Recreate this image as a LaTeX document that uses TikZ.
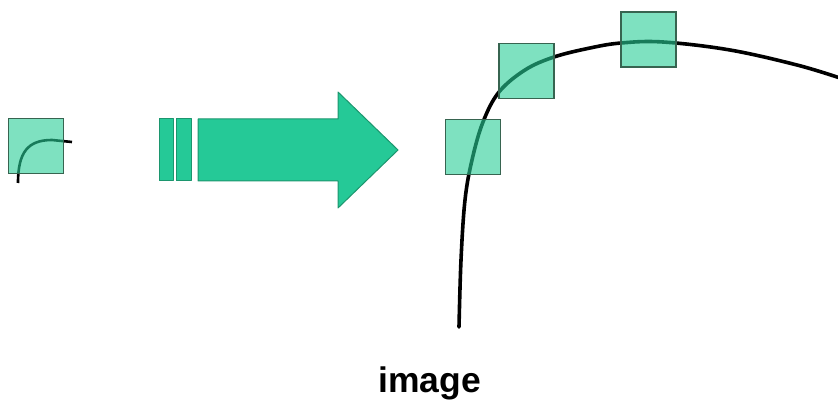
\documentclass[tikz,border=0pt]{standalone}
\usepackage{fontspec}
\setmainfont{Liberation Sans}
\begin{document}
\begin{tikzpicture}[x=1pt,y=-1pt,
  every node/.style={inner sep=0pt,outer sep=0pt},
  sq/.style={draw=sqline,line width=1.1pt,fill=tealfill,fill opacity=0.6,minimum size=55pt},
  curve/.style={line width=3.6pt,line cap=round},
  bigarrow/.style={fill=arrowfill,draw=arrowline,line width=1pt,line join=round}]
\definecolor{tealfill}{RGB}{40,205,150}
\definecolor{sqline}{RGB}{55,100,80}
\definecolor{arrowfill}{RGB}{37,201,151}
\definecolor{arrowline}{RGB}{28,150,110}
\useasboundingbox (0,0) rectangle (838,406);

% small patch with its curve fragment
\draw[line width=2.6pt] (18,183) .. controls (18,152) and (28,140) .. (52,140) -- (72,142);
\node[sq] (patch) at (36,146) {};

% transform arrow with two leading bars
\draw[bigarrow] (159,119) rectangle (173,181);
\draw[bigarrow] (176,119) rectangle (191,181);
\draw[bigarrow] (198,119) -- (338,119) -- (338,92) -- (398,150) -- (338,208) -- (338,181) -- (198,181) -- cycle;

% large curve
\draw[curve] plot[smooth,tension=0.6] coordinates {(459,327) (461,260) (465,200) (472,160) (483,122) (499,92) (525,70) (554,57) (590,48) (621,43) (663,42) (730,50) (797,65) (840,78)};

% patches along the curve
\node[sq] (pa) at (473,147) {};
\node[sq] (pb) at (526.5,71) {};
\node[sq] (pc) at (648.5,39.5) {};

\node[font=\bfseries,anchor=base] (lbl) at (429.5,392) {\fontsize{35.5}{40}\selectfont image};
\end{tikzpicture}
\end{document}
